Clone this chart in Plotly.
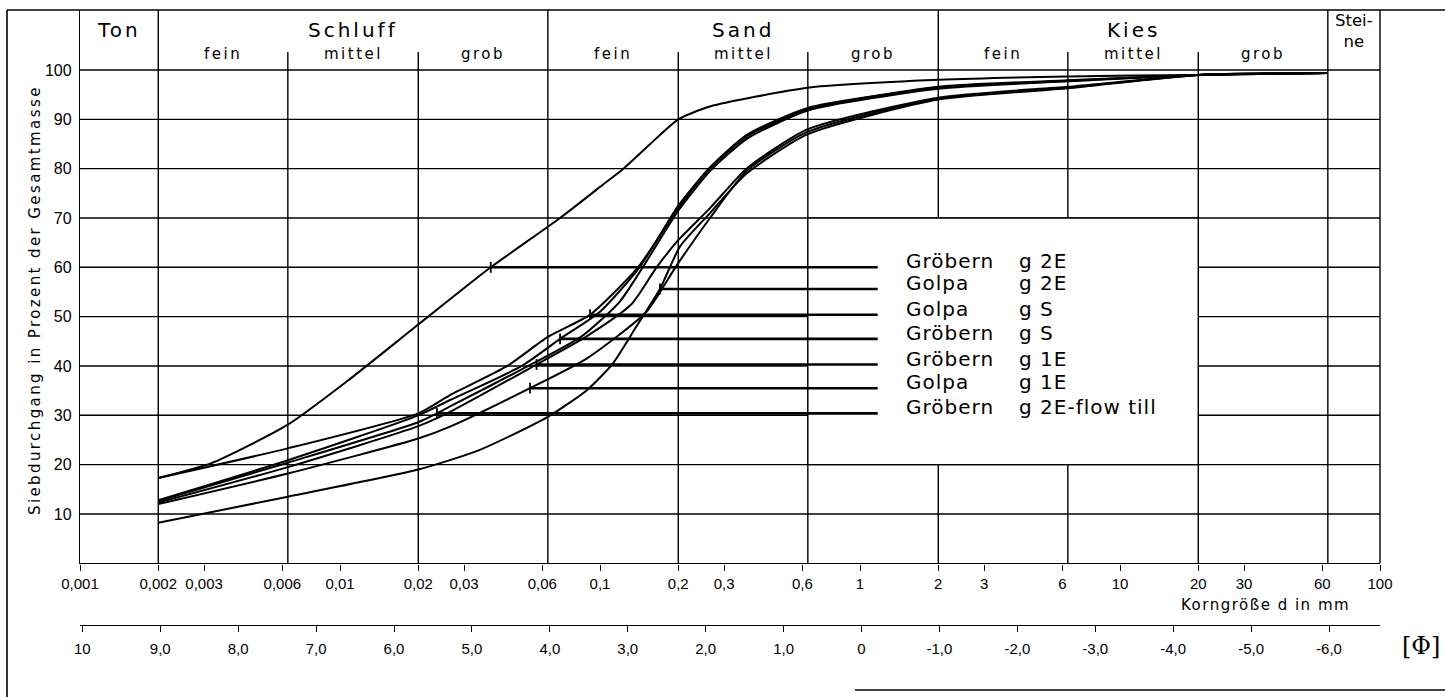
import numpy as np
import plotly.graph_objects as go

W, H = 1445, 697

# ------------------------------------------------------------------ data
# Siebdurchgang [%] over Korngröße d [mm]
groebern_g2e_d = [0.002, 0.0032, 0.0063, 0.0107, 0.02, 0.038, 0.0702, 0.1, 0.123, 0.156, 0.2, 0.265, 0.63, 2, 6.3, 20, 63]
groebern_g2e_p = [17.3, 20.3, 28.1, 37.0, 48.4, 60.0, 70.0, 76.3, 80.0, 85.0, 90.0, 92.6, 96.4, 98.0, 98.7, 99.0, 99.4]

golpa_g2e_d = [0.002, 0.0063, 0.02, 0.0345, 0.063, 0.089, 0.112, 0.138, 0.17, 0.203, 0.265, 0.366, 0.63, 2, 6.3, 20, 63]
golpa_g2e_p = [8.2, 13.5, 19.0, 23.0, 29.7, 35.1, 40.5, 48.0, 55.6, 64.2, 71.0, 79.0, 87.0, 94.0, 96.3, 99.0, 99.4]

golpa_gs_d = [0.002, 0.0063, 0.02, 0.0265, 0.0437, 0.063, 0.0916, 0.14, 0.2, 0.265, 0.366, 0.63, 2, 6.3, 20, 63]
golpa_gs_p = [17.3, 23.3, 30.4, 34.1, 39.9, 45.9, 50.4, 60.0, 72.0, 80.0, 86.5, 92.0, 96.6, 97.9, 99.0, 99.4]

groebern_gs_d = [0.002, 0.0063, 0.02, 0.0265, 0.05, 0.0702, 0.1, 0.142, 0.2, 0.265, 0.366, 0.63, 2, 6.3, 20, 63]
groebern_gs_p = [12.8, 20.9, 30.0, 33.1, 40.0, 45.5, 51.0, 60.0, 72.5, 80.3, 86.8, 92.3, 96.4, 97.8, 99.0, 99.4]

groebern_g1e_d = [0.002, 0.0063, 0.02, 0.0265, 0.057, 0.0888, 0.132, 0.165, 0.2, 0.265, 0.366, 0.63, 2, 6.3, 20, 63]
groebern_g1e_p = [12.3, 19.5, 27.8, 30.7, 40.3, 46.0, 52.5, 60.0, 65.5, 72.0, 80.0, 88.0, 94.4, 96.6, 99.0, 99.4]

golpa_g1e_d = [0.002, 0.0063, 0.02, 0.0265, 0.0538, 0.0888, 0.151, 0.195, 0.265, 0.366, 0.63, 2, 6.3, 20, 63]
golpa_g1e_p = [12.0, 18.2, 25.3, 27.7, 35.5, 41.5, 51.0, 60.0, 70.0, 79.5, 87.5, 94.2, 96.4, 99.0, 99.4]

flow_till_d = [0.002, 0.0063, 0.02, 0.0236, 0.0265, 0.053, 0.085, 0.119, 0.146, 0.2, 0.265, 0.366, 0.63, 2, 6.3, 20, 63]
flow_till_p = [12.6, 20.4, 28.6, 30.4, 31.8, 40.0, 46.0, 53.0, 60.0, 71.5, 79.5, 86.0, 91.8, 96.2, 97.7, 99.0, 99.4]

series = [
    (groebern_g2e_d, groebern_g2e_p),
    (golpa_g2e_d, golpa_g2e_p),
    (golpa_gs_d, golpa_gs_p),
    (groebern_gs_d, groebern_gs_p),
    (groebern_g1e_d, groebern_g1e_p),
    (golpa_g1e_d, golpa_g1e_p),
    (flow_till_d, flow_till_p),
]
label_site = ["Gröbern", "Golpa", "Golpa", "Gröbern", "Gröbern", "Golpa", "Gröbern"]
label_code = ["g 2E", "g 2E", "g S", "g S", "g 1E", "g 1E", "g 2E-flow till"]
# point on each curve where its label leader starts
marker_d = [0.038, 0.17, 0.0916, 0.0702, 0.057, 0.0538, 0.0236]
marker_p = [60.0, 55.6, 50.4, 45.5, 40.3, 35.5, 30.4]

# grain-size classes (DIN)
main_edges = [0.001, 0.002, 0.063, 2, 63, 100]
main_names = ["Ton", "Schluff", "Sand", "Kies", "Stei-<br>ne"]
sub_edges = [0.002, 0.0063, 0.02, 0.063, 0.2, 0.63, 2, 6.3, 20, 63]
sub_names = ["fein", "mittel", "grob"]

mm_ticks = [0.001, 0.002, 0.003, 0.006, 0.01, 0.02, 0.03, 0.06, 0.1, 0.2, 0.3, 0.6,
            1, 2, 3, 6, 10, 20, 30, 60, 100]
mm_labels = ["0,001", "0,002", "0,003", "0,006", "0,01", "0,02", "0,03", "0,06", "0,1",
             "0,2", "0,3", "0,6", "1", "2", "3", "6", "10", "20", "30", "60", "100"]
phi_ticks = [10, 9, 8, 7, 6, 5, 4, 3, 2, 1, 0, -1, -2, -3, -4, -5, -6]
phi_labels = ["10", "9,0", "8,0", "7,0", "6,0", "5,0", "4,0", "3,0", "2,0", "1,0", "0",
              "-1,0", "-2,0", "-3,0", "-4,0", "-5,0", "-6,0"]
phi_range = [10.03, -6.654]      # phi scale as printed below the mm scale
pct_ticks = [10, 20, 30, 40, 50, 60, 70, 80, 90, 100]

legend_box_d = [0.63, 20]
legend_box_p = [20, 70]
leader_end_d = 1.17

# ------------------------------------------------------------------ geometry
PX_X0, PX_X1 = 80, 1380          # 0.001 mm .. 100 mm
PX_Y0, PX_Y100 = 563.3, 70       # 0 % .. 100 %
PX_TOP = 10
ppu = (PX_Y0 - PX_Y100) / 100.0
y_max = (PX_Y0 - PX_TOP) / ppu
xdom = [PX_X0 / W, PX_X1 / W]
ydom = [(H - PX_Y0) / H, (H - PX_TOP) / H]


def fx(px):
    return px / W


def fy(px):
    return (H - px) / H


def p_of_px(px):
    return (PX_Y0 - px) / ppu


FONT = "DejaVu Sans"
TICKFONT = "Liberation Sans"


def spaced(t, sp):
    return f'<span style="letter-spacing:{sp}px">{t}</span>'


fig = go.Figure()

# ---- grid (class boundaries and percent lines)
gx, gy = [], []
for p in pct_ticks:
    gx += [main_edges[0], main_edges[-1], None]
    gy += [p, p, None]
for d in sub_edges:
    top = y_max if d in main_edges else 100
    gx += [d, d, None]
    gy += [0, top, None]
fig.add_trace(go.Scatter(x=gx, y=gy, mode="lines", line=dict(color="black", width=1.4),
                         hoverinfo="skip", showlegend=False))
# short dividers of the fein/mittel/grob sub-classes in the header
hx, hy = [], []
for d in sub_edges:
    if d not in main_edges:
        hx += [d, d, None]
        hy += [100, p_of_px(52), None]
fig.add_trace(go.Scatter(x=hx, y=hy, mode="lines", line=dict(color="black", width=1.4),
                         hoverinfo="skip", showlegend=False))

# ---- legend box (white, covering the grid)
bx = [legend_box_d[0], legend_box_d[1], legend_box_d[1], legend_box_d[0], legend_box_d[0]]
by = [legend_box_p[0], legend_box_p[0], legend_box_p[1], legend_box_p[1], legend_box_p[0]]
fig.add_trace(go.Scatter(x=bx, y=by, mode="lines", fill="toself", fillcolor="white",
                         line=dict(color="black", width=1.4), hoverinfo="skip", showlegend=False))

# ---- grain-size curves
for (d, p), s, c in zip(series, label_site, label_code):
    fig.add_trace(go.Scatter(x=d, y=p, mode="lines", name=f"{s} {c}",
                             line=dict(color="black", width=2.0, shape="spline", smoothing=0.6),
                             hoverinfo="skip", showlegend=False))

# ---- leader lines with start ticks
for md, mp in zip(marker_d, marker_p):
    fig.add_trace(go.Scatter(x=[md, leader_end_d], y=[mp, mp], mode="lines",
                             line=dict(color="black", width=2.6), hoverinfo="skip", showlegend=False))
    fig.add_trace(go.Scatter(x=[md, md], y=[mp - 1.1, mp + 1.1], mode="lines",
                             line=dict(color="black", width=1.8), hoverinfo="skip", showlegend=False))

# invisible trace carrying the phi axis
fig.add_trace(go.Scatter(x=[0], y=[50], xaxis="x2", mode="markers", marker=dict(opacity=0),
                         hoverinfo="skip", showlegend=False))

ann = []
# header: main classes
for i, name in enumerate(main_names):
    a, b = main_edges[i], main_edges[i + 1]
    xc = (np.log10(a) + np.log10(b)) / 2
    if "<br>" in name:
        ann.append(dict(x=xc, y=p_of_px(31), xref="x", yref="y", text=name, showarrow=False,
                        xanchor="center", yanchor="middle", font=dict(size=16.5, family=FONT)))
    else:
        ann.append(dict(x=xc, y=p_of_px(30), xref="x", yref="y", text=spaced(name, 3),
                        xanchor="center", yanchor="middle",
                        showarrow=False, font=dict(size=20, family=FONT)))
# header: sub classes
for k in range(3):
    for j, sn in enumerate(sub_names):
        a, b = sub_edges[3 * k + j], sub_edges[3 * k + j + 1]
        xc = (np.log10(a) + np.log10(b)) / 2
        ann.append(dict(x=xc, y=p_of_px(54), xref="x", yref="y", text=spaced(sn, 2.5),
                        xanchor="center", yanchor="middle",
                        showarrow=False, font=dict(size=15, family=FONT)))

# legend texts
for s, c, mp in zip(label_site, label_code, marker_p):
    ann.append(dict(x=fx(904), y=mp + 1.2, xref="paper", yref="y", text=spaced(s, 1),
                    xanchor="left", yanchor="middle", showarrow=False,
                    font=dict(size=20, family=FONT)))
    ann.append(dict(x=fx(1017), y=mp + 1.2, xref="paper", yref="y", text=spaced(c, 1),
                    xanchor="left", yanchor="middle", showarrow=False,
                    font=dict(size=20, family=FONT)))

# axis titles
ann.append(dict(x=fx(35), y=fy(300), xref="paper", yref="paper", textangle=-90,
                xanchor="center", yanchor="middle",
                text=spaced("Siebdurchgang in Prozent der Gesamtmasse", 2.4),
                showarrow=False, font=dict(size=15, family=FONT)))
ann.append(dict(x=fx(1352), y=fy(605), xref="paper", yref="paper", xanchor="right",
                yanchor="middle",
                text=spaced("Korngröße d in mm", 1.5), showarrow=False,
                font=dict(size=15, family=FONT)))
ann.append(dict(x=fx(1421), y=fy(646), xref="paper", yref="paper",
                xanchor="center", yanchor="middle",
                text="[Φ]", showarrow=False, font=dict(size=24, family="DejaVu Serif")))

# frame lines (paper)
shapes = [
    dict(type="line", xref="paper", yref="paper", x0=fx(7), x1=1, y0=fy(PX_TOP), y1=fy(PX_TOP),
         line=dict(color="black", width=1.6)),
    dict(type="line", xref="paper", yref="paper", x0=fx(7), x1=fx(7), y0=fy(PX_TOP), y1=0,
         line=dict(color="black", width=1.6)),
    dict(type="line", xref="paper", yref="paper", x0=fx(PX_X1), x1=fx(PX_X1), y0=fy(PX_TOP),
         y1=fy(PX_Y0), line=dict(color="black", width=1.4)),
    dict(type="line", xref="paper", yref="paper", x0=fx(855), x1=1, y0=fy(690), y1=fy(690),
         line=dict(color="black", width=1.4)),
]

fig.update_layout(
    width=W, height=H, margin=dict(l=0, r=0, t=0, b=0, autoexpand=False),
    paper_bgcolor="white", plot_bgcolor="white",
    font=dict(family=FONT, color="black"),
    hovermode=False, showlegend=False,
    annotations=ann, shapes=shapes,
    xaxis=dict(type="log", range=[np.log10(main_edges[0]), np.log10(main_edges[-1])],
               domain=xdom, anchor="y", showgrid=False, zeroline=False, automargin=False,
               showline=True, linecolor="black", linewidth=1.4,
               ticks="outside", ticklen=6, tickwidth=1.4, tickcolor="black",
               tickvals=mm_ticks, ticktext=mm_labels,
               tickfont=dict(size=15, family=TICKFONT, color="black")),
    xaxis2=dict(overlaying="x", anchor="free", position=fy(625), domain=xdom,
                range=phi_range, automargin=False,
                showgrid=False, zeroline=False,
                showline=True, linecolor="black", linewidth=1.4,
                ticks="outside", ticklen=6, tickwidth=1.4, tickcolor="black",
                tickvals=phi_ticks, ticktext=phi_labels, ticklabelstandoff=4,
                tickfont=dict(size=15, family=TICKFONT, color="black")),
    yaxis=dict(range=[0, y_max], domain=ydom, anchor="x", showgrid=False, zeroline=False,
               automargin=False,
               showline=True, linecolor="black", linewidth=1.4,
               ticks="", tickvals=pct_ticks, ticktext=[str(v) for v in pct_ticks],
               ticklabelstandoff=4,
               tickfont=dict(size=16, family=TICKFONT, color="black")),
)

fig.write_html("out.html", config={"displayModeBar": False})
